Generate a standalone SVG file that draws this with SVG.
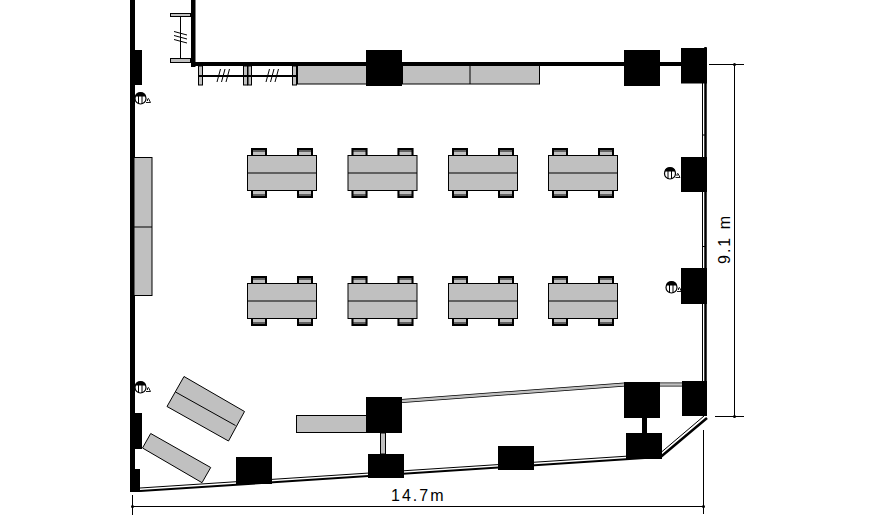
<svg xmlns="http://www.w3.org/2000/svg" xmlns:xlink="http://www.w3.org/1999/xlink" width="876" height="529" viewBox="0 0 876 529">
<style>
.g{fill:#c0c0c0;stroke:#000;stroke-width:1}
.b{fill:#000;stroke:none}
.l{fill:none;stroke:#000;stroke-width:1}
.t{font-family:"Liberation Sans",Arial,sans-serif;font-size:16px;letter-spacing:2px;fill:#000}
</style>
<defs>
<g id="chair">
<rect x="4" y="0" width="16" height="7" fill="#c0c0c0"/>
<path d="M5 7V1H19V7" fill="none" stroke="#000" stroke-width="2"/>
<path d="M5 3H19" fill="none" stroke="#000" stroke-width="1"/>
</g>
<g id="desk">
<use xlink:href="#chair" x="0" y="-7"/>
<use xlink:href="#chair" x="46" y="-7"/>
<use xlink:href="#chair" transform="translate(0,43) scale(1,-1)"/>
<use xlink:href="#chair" transform="translate(46,43) scale(1,-1)"/>
<rect class="g" x="0.500" y="0.500" width="69" height="35"/>
<path class="l" d="M0.500 18H69.500"/>
</g>
<g id="phone">
<ellipse cx="0" cy="0.500" rx="5.500" ry="5.500" fill="#fff" stroke="#000" stroke-width="1.200"/>
<path class="b" d="M-5.500 -1.500Q-5 -6 0 -6Q5 -6 5.500 -1.500Z"/>
<path class="l" d="M-2 -2V6M1.500 -2V6"/>
<path d="M5.500 4.500H10L8 0.500Q6.500 0.500 7 3" fill="none" stroke="#000" stroke-width="0.900"/>
</g>
<g id="hatchH"><path class="l" d="M0 13L3.500 0M4.500 13L8 0M9 13L12.500 0"/></g>
</defs>

<g id="walls">
<rect class="b" x="130" y="0" width="5" height="492"/>
<rect class="b" x="191" y="0" width="4.500" height="67"/>
<rect class="b" x="191" y="62" width="516" height="4"/>
<path d="M705.500 47V416" fill="none" stroke="#000" stroke-width="2.500"/>
<path d="M702.500 83V385M702.500 135H705M702.500 246.500H705" fill="none" stroke="#000" stroke-width="1"/>
<path d="M140 491L660 457" fill="none" stroke="#000" stroke-width="2"/>
<path d="M140 488L660 454" fill="none" stroke="#000" stroke-width="1"/>
<path d="M660 457.500L707 418" fill="none" stroke="#000" stroke-width="2.500"/>
<path d="M658 455L704 416" fill="none" stroke="#000" stroke-width="1"/>
<path d="M402 401L625 384.500M660 384.500H683" fill="none" stroke="#000" stroke-width="4"/>
<path d="M402 401L625 384.500M660 384.500H683" fill="none" stroke="#c0c0c0" stroke-width="2.500"/>
<rect class="g" x="380.500" y="433" width="5" height="21"/>
<rect class="b" x="642" y="418" width="5" height="15"/>
</g>

<g id="partitions">
<rect class="g" x="170.500" y="13.500" width="20" height="3"/>
<rect class="g" x="170.500" y="58.500" width="20" height="4"/>
<path class="l" d="M180.500 16V58M174 31.500L187 35M174 35.500L187 39M174 39.500L187 43"/>
<rect class="g" x="198.500" y="66" width="4" height="19"/>
<rect class="g" x="243.500" y="66" width="4" height="19"/>
<rect class="g" x="248" y="66" width="3.500" height="19"/>
<rect class="g" x="292.500" y="66" width="4" height="19"/>
<rect class="b" x="198" y="75" width="99" height="2"/>
<use xlink:href="#hatchH" x="217" y="69"/>
<use xlink:href="#hatchH" x="266" y="69"/>
</g>

<g id="cabinets">
<rect class="g" x="297.500" y="65.500" width="242" height="18.500"/>
<path class="l" d="M402.500 66V84M470 66V84"/>
<rect class="g" x="134" y="157.500" width="18" height="138"/>
<path class="l" d="M134 227H152"/>
<rect class="g" x="296.500" y="415.500" width="70" height="17"/>
<polygon class="g" points="184,376.500 244.500,411.500 228.500,441 167,406.500"/>
<path class="l" d="M175.500 392L235.500 425.500"/>
<polygon class="g" points="150.700,433.500 210.700,467.500 202,482.700 142.500,448"/>
</g>

<g id="columns">
<rect class="b" x="366" y="50" width="36" height="36"/>
<rect class="b" x="624" y="50" width="36" height="36"/>
<rect class="b" x="681" y="48" width="26" height="35.500"/>
<rect class="b" x="681" y="157" width="26" height="35"/>
<rect class="b" x="681" y="268" width="26" height="36"/>
<rect class="b" x="366" y="397" width="36" height="36"/>
<rect class="b" x="624" y="382" width="36" height="36"/>
<rect class="b" x="682" y="381" width="25" height="35"/>
<rect class="b" x="626" y="433" width="36" height="26"/>
<rect class="b" x="498" y="446" width="36" height="24"/>
<rect class="b" x="368" y="454" width="36" height="24"/>
<rect class="b" x="236" y="457" width="36" height="27"/>
<rect class="b" x="133" y="50" width="9" height="35"/>
<rect class="b" x="133" y="413" width="9" height="36"/>
<rect class="b" x="131" y="469" width="9" height="23"/>
</g>

<g id="desks">
<use xlink:href="#desk" x="247" y="155"/>
<use xlink:href="#desk" x="347.500" y="155"/>
<use xlink:href="#desk" x="448" y="155"/>
<use xlink:href="#desk" x="548" y="155"/>
<use xlink:href="#desk" x="247" y="283"/>
<use xlink:href="#desk" x="347.500" y="283"/>
<use xlink:href="#desk" x="448" y="283"/>
<use xlink:href="#desk" x="548" y="283"/>
</g>

<g id="phones">
<use xlink:href="#phone" x="140.500" y="98"/>
<use xlink:href="#phone" x="140.500" y="387"/>
<use xlink:href="#phone" x="670" y="173"/>
<use xlink:href="#phone" x="671.500" y="287"/>
</g>

<g id="dimensions">
<path class="l" d="M132.500 495V515M132 506.500H704M703.500 430V514"/>
<path class="l" d="M709 64.500H744M715 416.500H744M734.500 64V416"/>
<circle class="b" cx="734.500" cy="64.500" r="1.500"/>
<circle class="b" cx="734.500" cy="416.500" r="1.500"/>
<circle class="b" cx="132.500" cy="506.500" r="1.500"/>
<circle class="b" cx="703.500" cy="506.500" r="1.500"/>
<text class="t" x="391" y="501">14.7m</text>
<text class="t" transform="translate(730,264) rotate(-90)">9.1 m</text>
</g>
</svg>
